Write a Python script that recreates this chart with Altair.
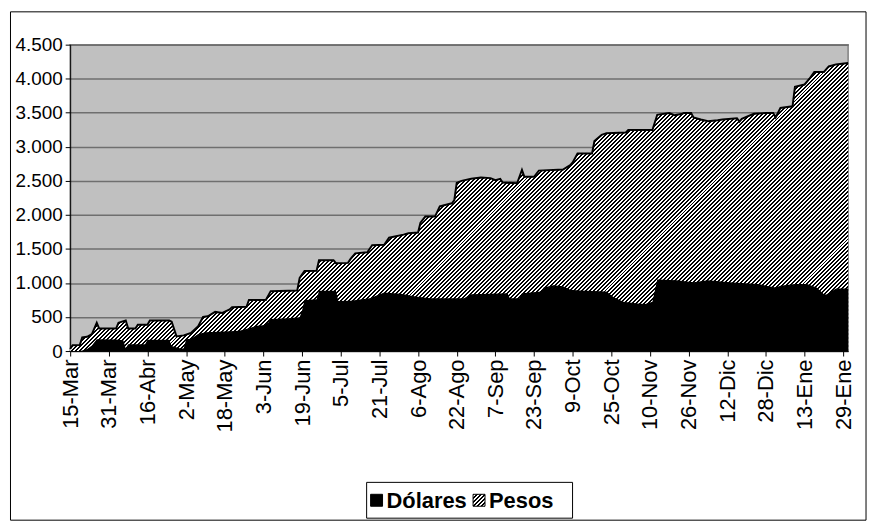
import math
import altair as alt
import pandas as pd

# ---------------- data ----------------
etiquetas_x = ['15-Mar', '31-Mar', '16-Abr', '2-May', '18-May', '3-Jun', '19-Jun',
               '5-Jul', '21-Jul', '6-Ago', '22-Ago', '7-Sep', '23-Sep', '9-Oct',
               '25-Oct', '10-Nov', '26-Nov', '12-Dic', '28-Dic', '13-Ene', '29-Ene']
paso_dias = 16
series = ['Dólares', 'Pesos']
y_ticks = [0, 500, 1000, 1500, 2000, 2500, 3000, 3500, 4000, 4500]

# top of the stack (Dólares + Pesos), day index from 15-Mar
tope_dias = [0, 1, 4, 5, 7, 9, 11, 12, 19, 20,
             23, 24, 27, 28, 32, 33, 41, 42, 44, 47,
             50, 53, 55, 57, 60, 63, 66, 67, 73, 74,
             81, 83, 94, 95, 97, 102, 103, 109, 110, 115,
             116, 118, 123, 125, 130, 132, 138, 140, 144, 145,
             147, 151, 153, 158, 159, 160, 162, 166, 170, 174,
             176, 178, 179, 185, 187, 188, 192, 194, 204, 207,
             208, 210, 216, 217, 220, 222, 230, 231, 241, 243,
             248, 250, 253, 254, 257, 258, 261, 264, 268, 270,
             276, 277, 278, 283, 288, 291, 292, 294, 299, 300,
             304, 306, 308, 312, 314, 317, 322]
tope_valores = [30, 85, 90, 200, 210, 250, 415, 330, 330, 415,
                450, 330, 330, 385, 385, 450, 450, 430, 215, 230,
                265, 365, 500, 510, 575, 560, 610, 645, 650, 750,
                750, 880, 890, 1075, 1175, 1180, 1335, 1335, 1290, 1295,
                1350, 1435, 1450, 1555, 1560, 1665, 1710, 1730, 1740, 1885,
                1975, 1975, 2125, 2170, 2215, 2470, 2500, 2530, 2550, 2540,
                2510, 2530, 2475, 2465, 2660, 2560, 2560, 2650, 2665, 2730,
                2770, 2900, 2900, 3085, 3175, 3200, 3210, 3245, 3245, 3470,
                3495, 3465, 3480, 3495, 3495, 3430, 3400, 3375, 3390, 3400,
                3420, 3370, 3410, 3485, 3495, 3495, 3430, 3570, 3595, 3880,
                3915, 4000, 4100, 4100, 4180, 4210, 4230]

# Dólares (bottom series)
dolares_dias = [0, 4, 5, 7, 9, 11, 19, 22, 23, 24,
                31, 32, 41, 42, 46, 47, 48, 50, 53, 56,
                61, 66, 70, 74, 77, 80, 82, 83, 90, 95,
                96, 97, 102, 103, 110, 111, 116, 124, 130, 137,
                143, 149, 163, 166, 181, 182, 186, 187, 195, 196,
                200, 204, 207, 211, 222, 225, 229, 235, 238, 241,
                243, 251, 258, 264, 273, 285, 288, 292, 294, 300,
                305, 309, 312, 313, 315, 317, 322]
dolares_valores = [0, 0, 10, 30, 80, 175, 170, 160, 40, 100,
                   100, 165, 165, 75, 35, 40, 175, 180, 250, 275,
                   285, 290, 300, 335, 370, 380, 420, 470, 480, 495,
                   600, 750, 760, 885, 885, 735, 740, 775, 860, 840,
                   800, 775, 775, 835, 850, 775, 775, 850, 875, 935,
                   965, 950, 900, 890, 875, 790, 725, 700, 690, 725,
                   1050, 1040, 1010, 1040, 1010, 985, 960, 935, 960, 985,
                   985, 935, 835, 830, 875, 920, 920]

assert len(tope_dias) == len(tope_valores)
assert len(dolares_dias) == len(dolares_valores)

# ---------------- layout ----------------
W, H = 782, 308
X_MAX = 322
Y_MAX = 4500
FONT = 'Liberation Sans'
PERIODO = 4.0   # hatch period (px along x)
FASE = 0.25     # global position of stripe edges, away from pixel centres


def rayado(w, h, bx, by):
    """Diagonal '/' hatch as a hard-stop linear gradient for a mark whose
    bounding box is w x h with top-left corner (bx, by) in plot pixels.
    Stripe edges are fixed in plot space (X + Y = FASE + 2n), so adjacent
    pieces join seamlessly."""
    r = h / w
    k = (w + h) / (w * (1 + r * r)) * 1.002
    span = k * w * (1 + r * r)          # local X+Y covered by t in [0, 1]
    off = bx + by
    half = PERIODO / 2
    n = math.ceil((off - FASE) / half)
    pos = FASE + n * half - off
    color_after = 'black' if n % 2 == 0 else 'white'
    color_before = 'white' if color_after == 'black' else 'black'
    stops = [alt.GradientStop(color=color_before, offset=0.0)]
    while pos < span:
        o = round(pos / span, 7)
        stops += [alt.GradientStop(color=color_before, offset=o),
                  alt.GradientStop(color=color_after, offset=o)]
        color_before, color_after = color_after, color_before
        pos += half
    stops.append(alt.GradientStop(color=color_before, offset=1.0))
    return alt.LinearGradient(gradient='linear', stops=stops,
                              x1=0, y1=0, x2=k, y2=k * r)


df_tope = pd.DataFrame({'dia': tope_dias, 'valor': tope_valores})
df_dol = pd.DataFrame({'dia': dolares_dias, 'valor': dolares_valores})
uno = pd.DataFrame({'k': [0]})

lista_js = '[' + ','.join("'%s'" % s for s in etiquetas_x) + ']'

x_axis = alt.Axis(values=[paso_dias * i for i in range(len(etiquetas_x))],
                  labelExpr=lista_js + '[round(datum.value / %d)]' % paso_dias,
                  labelAngle=270, labelAlign='right', labelBaseline='middle',
                  labelOverlap=False, labelFlush=False, labelPadding=3,
                  tickSize=5, tickColor='black', domainColor='black',
                  labelColor='black', labelFont=FONT, labelFontSize=22,
                  grid=False, title=None)
y_axis = alt.Axis(values=y_ticks,
                  labelExpr="replace(format(datum.value, ','), ',', '.')",
                  labelPadding=3, tickSize=5, tickColor='black',
                  domainColor='black', labelColor='black', labelFont=FONT,
                  labelFontSize=19, grid=True, gridColor='#6f6f6f',
                  gridWidth=1.5, title=None)

X = alt.X('dia:Q', scale=alt.Scale(domain=[0, X_MAX], nice=False, zero=False), axis=x_axis)
Y = alt.Y('valor:Q', scale=alt.Scale(domain=[0, Y_MAX], nice=False), axis=y_axis)

# hatched "Pesos" layer (top of stack), split into overlapping pieces so each
# gradient covers a small box
capas_rayado = []
PASO = 8
i = 0
n_pts = len(tope_dias)
while i < n_pts - 1:
    j = min(i + PASO, n_pts - 1)
    sub = df_tope.iloc[i:j + 1]
    bx = tope_dias[i] * W / X_MAX
    bw = (tope_dias[j] - tope_dias[i]) * W / X_MAX
    top = H * (1 - max(tope_valores[i:j + 1]) / Y_MAX)
    bh = H - top
    capas_rayado.append(
        alt.Chart(sub).mark_area(fill=rayado(bw, bh, bx, top), interpolate='linear')
        .encode(x=X, y=Y))
    if j == n_pts - 1:
        break
    i = j - 1

area_dol = alt.Chart(df_dol).mark_area(color='black', interpolate='linear').encode(x=X, y=Y)
linea_tope = alt.Chart(df_tope).mark_line(color='black', strokeWidth=2).encode(x=X, y=Y)

marco = alt.Chart(uno).mark_rect(fill='white', fillOpacity=0, stroke='black', strokeWidth=1).encode(
    x=alt.value(-60), x2=alt.value(800), y=alt.value(-33), y2=alt.value(478))

LEG_Y = 458
LEG_X2 = 411
leg_caja = alt.Chart(uno).mark_rect(fill='white', fillOpacity=0, stroke='black', strokeWidth=1).encode(
    x=alt.value(298), x2=alt.value(505), y=alt.value(440), y2=alt.value(476))
leg_c1 = alt.Chart(pd.DataFrame({'serie': [series[0]]})).mark_square(
    size=144, fill='black', stroke='black', strokeWidth=1, opacity=1).encode(
    x=alt.value(308), y=alt.value(LEG_Y))
leg_c2 = alt.Chart(pd.DataFrame({'serie': [series[1]]})).mark_square(
    size=144, fill=rayado(12, 12, LEG_X2 - 6, LEG_Y - 6), stroke='black',
    strokeWidth=1, opacity=1).encode(x=alt.value(LEG_X2), y=alt.value(LEG_Y))
leg_t1 = alt.Chart(pd.DataFrame({'serie': [series[0]]})).mark_text(
    align='left', baseline='middle', font=FONT, fontSize=22, fontWeight='bold', color='black').encode(
    text='serie:N', x=alt.value(318), y=alt.value(LEG_Y + 1))
leg_t2 = alt.Chart(pd.DataFrame({'serie': [series[1]]})).mark_text(
    align='left', baseline='middle', font=FONT, fontSize=22, fontWeight='bold', color='black').encode(
    text='serie:N', x=alt.value(LEG_X2 + 10), y=alt.value(LEG_Y + 1))

chart = alt.layer(
    marco, *capas_rayado, area_dol, linea_tope, leg_caja, leg_c1, leg_c2, leg_t1, leg_t2
).properties(
    width=W, height=H, background='white',
    padding={'left': 1.5, 'top': 1.5, 'right': 2, 'bottom': 2}
).configure_view(fill='#C0C0C0', stroke='#808080', strokeWidth=1.5)

chart.save("out.html", embed_options={"renderer": "svg", "actions": False})
